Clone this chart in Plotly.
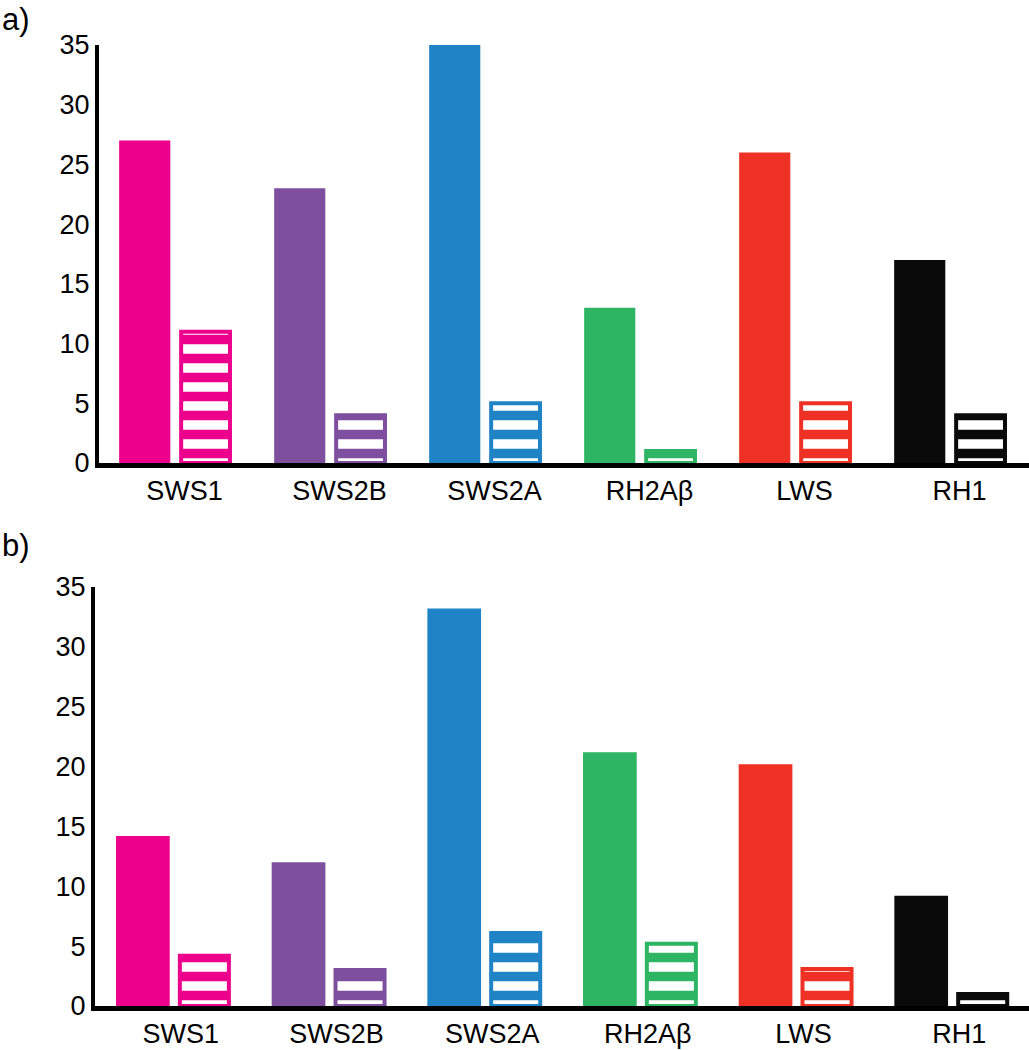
import plotly.graph_objects as go

categories = ["SWS1", "SWS2B", "SWS2A", "RH2Aβ", "LWS", "RH1"]
colors = ["#EC008C", "#7F4F9F", "#1F83C6", "#2DB563", "#EE3124", "#0A0A0B"]
a_solid = [27, 23, 35, 13, 26, 17]
a_hatched = [11, 4, 5, 1, 5, 4]
b_solid = [14.2, 12, 33.2, 21.2, 20.2, 9.2]
b_hatched = [4.2, 3, 6.1, 5.2, 3.1, 1]
y_ticks = [0, 5, 10, 15, 20, 25, 30, 35]
panel_labels = ["a)", "b)"]

W, H = 1029, 1050
TOP, BOT = 45, 44
plot_h = H - TOP - BOT


def ypaper(px):
    return (H - BOT - px) / plot_h


fig = go.Figure()


def hatched_marker():
    return dict(
        color=colors,
        line=dict(color=colors, width=4),
        pattern=dict(shape="-", fillmode="replace", bgcolor=colors,
                     fgcolor=["#FFFFFF"] * len(colors), fgopacity=1,
                     size=19, solidity=0.5),
    )


fig.add_trace(go.Bar(x=categories, y=a_solid, marker=dict(color=colors, line=dict(width=0)),
                     width=0.33, offset=-0.37, xaxis="x", yaxis="y", showlegend=False))
fig.add_trace(go.Bar(x=categories, y=a_hatched, marker=hatched_marker(),
                     width=0.315, offset=0.03, xaxis="x", yaxis="y", showlegend=False))
fig.add_trace(go.Bar(x=categories, y=b_solid, marker=dict(color=colors, line=dict(width=0)),
                     width=0.345, offset=-0.365, xaxis="x2", yaxis="y2", showlegend=False))
fig.add_trace(go.Bar(x=categories, y=b_hatched, marker=hatched_marker(),
                     width=0.315, offset=0.045, xaxis="x2", yaxis="y2", showlegend=False))

font = dict(family="Liberation Sans, Arial, sans-serif", size=27, color="black")

xcommon = dict(showgrid=False, zeroline=False, showline=True, linewidth=5, linecolor="black",
               ticks="", tickfont=font, range=[-0.5, 5.5], ticklabelshift=8, ticklabelstandoff=0,
               automargin=False, fixedrange=True)
ycommon = dict(showgrid=False, zeroline=False, showline=True, linewidth=4, linecolor="black",
               ticks="", tickfont=font, range=[0, 35], tickvals=y_ticks, ticklabelstandoff=0,
               automargin=False, fixedrange=True)

fig.update_layout(
    width=W, height=H,
    margin=dict(l=0, r=0, t=TOP, b=BOT, autoexpand=False),
    paper_bgcolor="white", plot_bgcolor="white",
    barmode="overlay",
    xaxis=dict(domain=[99 / W, 1], anchor="y", **xcommon),
    yaxis=dict(domain=[ypaper(463), 1], anchor="x", **ycommon),
    xaxis2=dict(domain=[95 / W, 1], anchor="y2", **xcommon),
    yaxis2=dict(domain=[0, ypaper(587)], anchor="x2", **ycommon),
    annotations=[
        dict(text=panel_labels[0], x=0, xref="paper", xanchor="left", y=ypaper(0), yref="paper",
             yanchor="top", showarrow=False, font=dict(family="Liberation Sans, Arial, sans-serif", size=31, color="black")),
        dict(text=panel_labels[1], x=0, xref="paper", xanchor="left", y=ypaper(526), yref="paper",
             yanchor="top", showarrow=False, font=dict(family="Liberation Sans, Arial, sans-serif", size=31, color="black")),
    ],
)

fig.write_html("out.html", config={"displayModeBar": False},
               post_script="document.body.style.margin='0px';")
